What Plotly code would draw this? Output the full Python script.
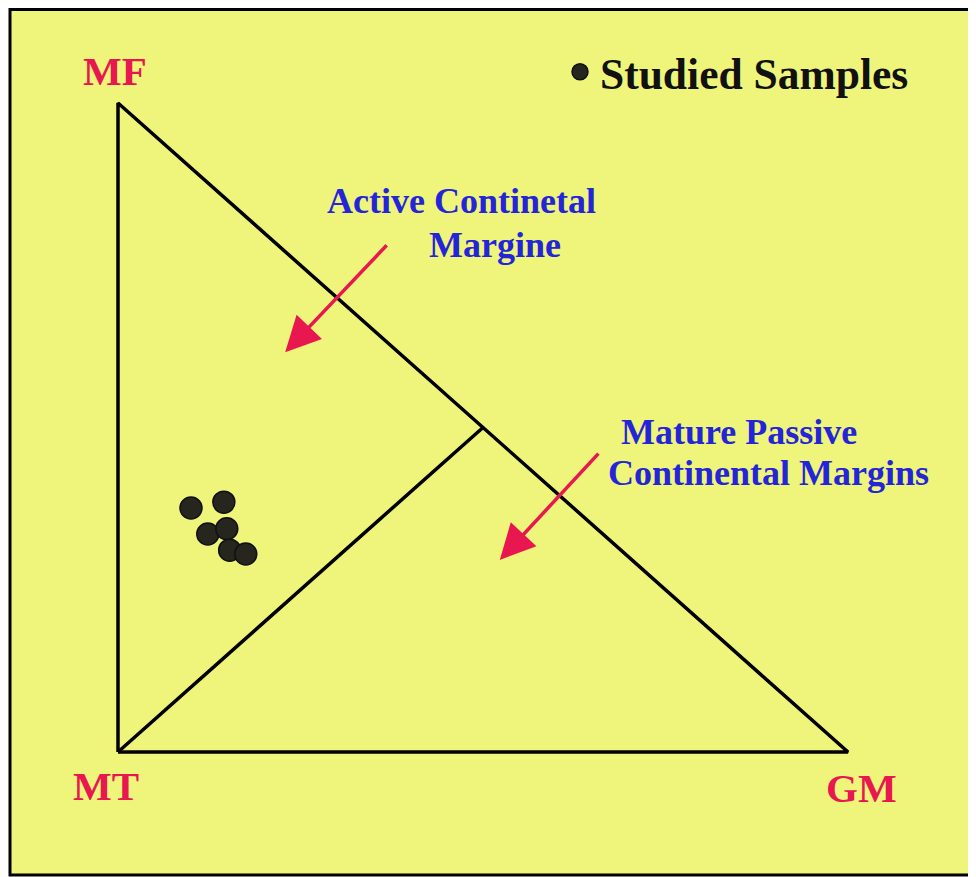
import plotly.graph_objects as go

# Ternary-style diagram in a cartesian frame: MT=(0,0), GM=(100,0), MF=(0,100)
vertex_names = ["MT", "GM", "MF"]
vertex_x = [0, 100, 0]
vertex_y = [0, 0, 100]
# divider from MT to midpoint of MF-GM side
divider_x = [0, 50]
divider_y = [0, 50]

# studied samples
sample_x = [10.0, 14.5, 12.3, 14.9, 15.3, 17.5]
sample_y = [37.6, 38.5, 33.6, 34.4, 31.1, 30.5]

# field labels and arrows (tail -> head)
field_labels = ["Active Continetal", "Margine", "Mature Passive", "Continental Margins"]
field_label_x = [47.1, 51.6, 85.1, 89.1]
field_label_y = [84.9, 78.1, 49.3, 43.0]
arrow_tail_x = [37.0, 66.0]
arrow_tail_y = [78.3, 46.2]
arrow_head_x = [22.9, 52.3]
arrow_head_y = [61.6, 29.6]

vertex_label_x = [-1.64, 101.9, -0.41]
vertex_label_y = [-5.24, -5.55, 104.9]

BG = "#EEF57A"
RED = "#E8174F"
BLUE = "#2424D8"
FONT = "Liberation Serif"

fig = go.Figure()

fig.add_trace(go.Scatter(
    x=vertex_x + [vertex_x[0]], y=vertex_y + [vertex_y[0]],
    mode="lines", line=dict(color="black", width=3.5),
    showlegend=False, hoverinfo="skip"))
fig.add_trace(go.Scatter(
    x=divider_x, y=divider_y, mode="lines",
    line=dict(color="black", width=3.5),
    showlegend=False, hoverinfo="skip"))
fig.add_trace(go.Scatter(
    x=sample_x, y=sample_y, mode="markers", name="<b>Studied Samples</b>",
    marker=dict(size=22, color="#26261f", line=dict(color="#111111", width=1.5)),
    showlegend=True))

annotations = []
for name, x, y in zip(vertex_names, vertex_label_x, vertex_label_y):
    annotations.append(dict(x=x, y=y, xref="x", yref="y", text=f"<b>{name}</b>",
                            showarrow=False, font=dict(family=FONT, size=41, color=RED)))
for t, x, y in zip(field_labels, field_label_x, field_label_y):
    annotations.append(dict(x=x, y=y, xref="x", yref="y", text=f"<b>{t}</b>",
                            showarrow=False, font=dict(family=FONT, size=36, color=BLUE)))
for tx, ty, hx, hy in zip(arrow_tail_x, arrow_tail_y, arrow_head_x, arrow_head_y):
    annotations.append(dict(x=hx, y=hy, xref="x", yref="y", ax=tx, ay=ty,
                            axref="x", ayref="y", text="", showarrow=True,
                            arrowhead=2, arrowsize=2.0, arrowwidth=3.5, arrowcolor=RED))

W, H = 976, 877
fig.update_layout(
    width=W, height=H,
    margin=dict(l=0, r=0, t=0, b=0),
    paper_bgcolor="white", plot_bgcolor="rgba(0,0,0,0)",
    xaxis=dict(range=[-15.068, 118.630], visible=False, fixedrange=True),
    yaxis=dict(range=[-20.493, 114.638], visible=False, fixedrange=True),
    annotations=annotations,
    shapes=[dict(type="rect", xref="paper", yref="paper",
                 x0=2 / W, x1=1.02, y0=1 - 867 / H, y1=1 - 1.5 / H,
                 fillcolor=BG, line=dict(color="black", width=3), layer="below")],
    legend=dict(x=552 / W, y=1 - 64 / H, xanchor="left", yanchor="middle",
                bgcolor="rgba(0,0,0,0)", font=dict(family=FONT, size=43.5, color="#111111")),
)

fig.write_html("out.html")
